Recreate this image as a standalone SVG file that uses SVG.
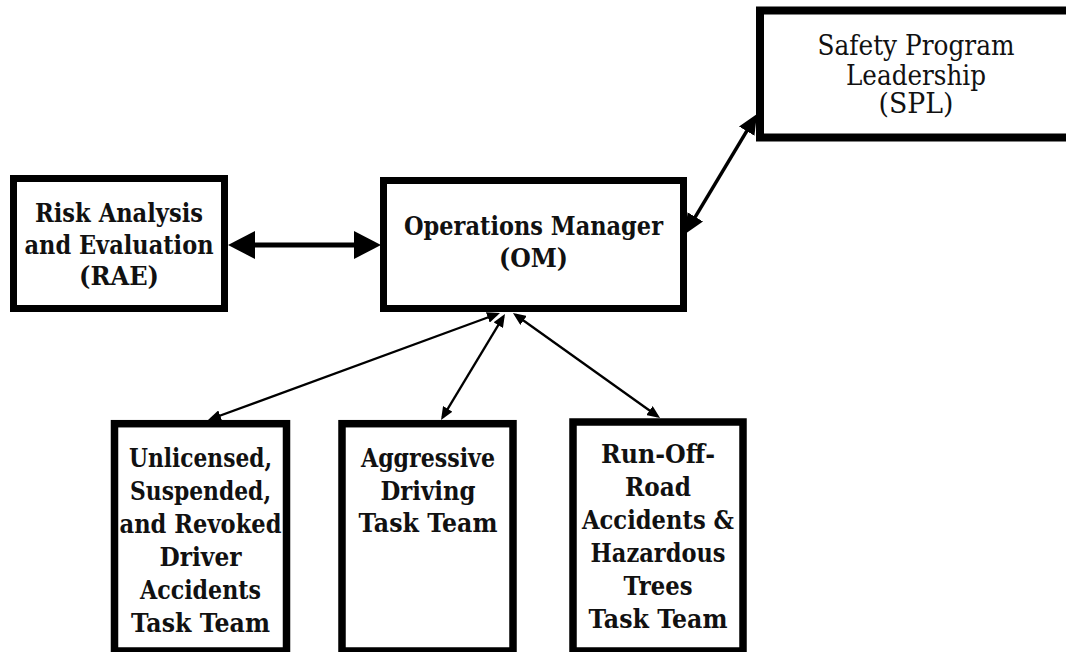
<svg xmlns="http://www.w3.org/2000/svg" width="1066" height="652" viewBox="0 0 1066 652">
<style>
.box{fill:#fff;stroke:#000;stroke-width:7}
.t{font-family:"DejaVu Serif","Liberation Serif",serif;font-weight:bold;font-size:26px;fill:#111;text-anchor:middle}
.r{font-weight:normal;font-size:27px}
.thick{stroke:#000;stroke-width:5;fill:none}
.mid{stroke:#000;stroke-width:3.5;fill:none}
.thin{stroke:#000;stroke-width:2.3;fill:none}
</style>
<defs>
<marker id="aBig" markerUnits="userSpaceOnUse" viewBox="0 0 27 28" markerWidth="27" markerHeight="28" refX="17" refY="14" orient="auto-start-reverse"><path d="M0,0 L27,14 L0,28 z" fill="#000"/></marker>
<marker id="aMid" markerUnits="userSpaceOnUse" viewBox="0 0 20 18" markerWidth="20" markerHeight="18" refX="14" refY="9" orient="auto-start-reverse"><path d="M0,0 L20,9 L0,18 z" fill="#000"/></marker>
<marker id="aSm" markerUnits="userSpaceOnUse" viewBox="0 0 13 11" markerWidth="13" markerHeight="11" refX="10" refY="5.5" orient="auto-start-reverse"><path d="M0,0 L13,5.5 L0,11 z" fill="#000"/></marker>
</defs>
<rect width="1066" height="652" fill="#fff"/>
<g id="connectors">
<line class="thick" x1="238" y1="245" x2="371" y2="245" marker-start="url(#aBig)" marker-end="url(#aBig)"/>
<line class="mid" x1="688.1" y1="228.9" x2="753.9" y2="119.1" marker-start="url(#aMid)" marker-end="url(#aMid)"/>
<line class="thin" x1="497.2" y1="314" x2="210.8" y2="419" marker-start="url(#aSm)" marker-end="url(#aSm)"/>
<line class="thin" x1="503.4" y1="316.6" x2="442.6" y2="417.4" marker-start="url(#aSm)" marker-end="url(#aSm)"/>
<line class="thin" x1="515.4" y1="314.7" x2="657.6" y2="416.3" marker-start="url(#aSm)" marker-end="url(#aSm)"/>
</g>
<g id="spl">
<rect class="box" x="760" y="10.5" width="320" height="127" style="stroke-width:8"/>
<text class="t r" x="916" y="55" textLength="197" lengthAdjust="spacingAndGlyphs">Safety Program</text>
<text class="t r" x="916" y="84.5" textLength="140" lengthAdjust="spacingAndGlyphs">Leadership</text>
<text class="t r" x="916" y="113" textLength="75" lengthAdjust="spacingAndGlyphs">(SPL)</text>
</g>
<g id="rae">
<rect class="box" x="13.5" y="178.5" width="211" height="130"/>
<text class="t" x="119" y="222" textLength="168" lengthAdjust="spacingAndGlyphs">Risk Analysis</text>
<text class="t" x="119" y="254" textLength="189" lengthAdjust="spacingAndGlyphs">and Evaluation</text>
<text class="t" x="119" y="285" textLength="80" lengthAdjust="spacingAndGlyphs">(RAE)</text>
</g>
<g id="om">
<rect class="box" x="383.5" y="180.5" width="300" height="128"/>
<text class="t" x="533.5" y="235" textLength="259" lengthAdjust="spacingAndGlyphs">Operations Manager</text>
<text class="t" x="533.5" y="267" textLength="69" lengthAdjust="spacingAndGlyphs">(OM)</text>
</g>
<g id="usr">
<rect class="box" x="114.5" y="423.7" width="172" height="227.3" style="stroke-width:7.5"/>
<text class="t" x="200.5" y="467" textLength="143" lengthAdjust="spacingAndGlyphs">Unlicensed,</text>
<text class="t" x="200.5" y="500" textLength="141" lengthAdjust="spacingAndGlyphs">Suspended,</text>
<text class="t" x="200.5" y="533" textLength="162" lengthAdjust="spacingAndGlyphs">and Revoked</text>
<text class="t" x="200.5" y="566" textLength="82" lengthAdjust="spacingAndGlyphs">Driver</text>
<text class="t" x="200.5" y="599" textLength="121" lengthAdjust="spacingAndGlyphs">Accidents</text>
<text class="t" x="200.5" y="632" textLength="139" lengthAdjust="spacingAndGlyphs">Task Team</text>
</g>
<g id="adt">
<rect class="box" x="342" y="423.7" width="171" height="227.3" style="stroke-width:7.5"/>
<text class="t" x="428" y="467" textLength="134" lengthAdjust="spacingAndGlyphs">Aggressive</text>
<text class="t" x="428" y="500" textLength="95" lengthAdjust="spacingAndGlyphs">Driving</text>
<text class="t" x="428" y="532" textLength="139" lengthAdjust="spacingAndGlyphs">Task Team</text>
</g>
<g id="ror">
<rect class="box" x="573" y="422" width="170" height="229" style="stroke-width:7.5"/>
<text class="t" x="658" y="463" textLength="114" lengthAdjust="spacingAndGlyphs">Run-Off-</text>
<text class="t" x="658" y="496" textLength="66" lengthAdjust="spacingAndGlyphs">Road</text>
<text class="t" x="658" y="529" textLength="152" lengthAdjust="spacingAndGlyphs">Accidents &amp;</text>
<text class="t" x="658" y="562" textLength="135" lengthAdjust="spacingAndGlyphs">Hazardous</text>
<text class="t" x="658" y="595" textLength="69" lengthAdjust="spacingAndGlyphs">Trees</text>
<text class="t" x="658" y="628" textLength="139" lengthAdjust="spacingAndGlyphs">Task Team</text>
</g>
</svg>
